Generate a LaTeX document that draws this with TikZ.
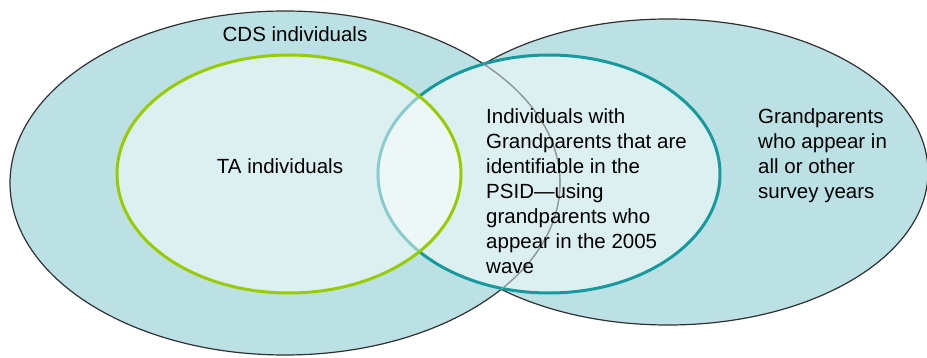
\documentclass[tikz,border=0pt]{standalone}
\usepackage{fontspec}
\setmainfont{Liberation Sans}
\definecolor{outerfill}{HTML}{BBE1E4}
\definecolor{outline}{HTML}{303030}
\definecolor{hidden}{HTML}{8C9A9C}
\definecolor{tagreen}{HTML}{99CC00}
\definecolor{gpteal}{HTML}{169A9E}
\begin{document}
\begin{tikzpicture}[x=1pt,y=-1pt,
  outerset/.style={fill=outerfill, draw=outline, line width=1.2pt},
  innerset/.style={fill=white, fill opacity=0.5, line width=3pt},
  lbl/.style={font=\fontsize{20.5}{25}\selectfont, inner sep=0pt, align=left, text=black}]
\useasboundingbox (0,0) rectangle (927,358);
\fill[white] (0,0) rectangle (927,358);
% outer sets
\path[outerset] (668,172) ellipse [x radius=260, y radius=153];
\path[outerset] (285,183) ellipse [x radius=275, y radius=172];
% inner sets
\path[innerset, draw=gpteal] (549,174) ellipse [x radius=171, y radius=119];
\path[innerset, draw=tagreen] (289,174) ellipse [x radius=172, y radius=119];
% part of the CDS outline lying inside the right set, drawn lighter
\begin{scope}
  \clip (668,172) ellipse [x radius=259.4, y radius=152.4];
  \draw[hidden, line width=1.2pt] (285,183) ellipse [x radius=275, y radius=172];
\end{scope}
% labels
\node[lbl, anchor=base] (cds) at (295,42) {CDS individuals};
\node[lbl, anchor=base] (ta) at (280,174) {TA individuals};
\node[lbl, anchor=north west] (gpid) at (486,108) {Individuals with\\Grandparents that are\\identifiable in the\\PSID---using\\grandparents who\\appear in the 2005\\wave};
\node[lbl, anchor=north west] (gpall) at (758,108) {Grandparents\\who appear in\\all or other\\survey years};
\end{tikzpicture}
\end{document}
